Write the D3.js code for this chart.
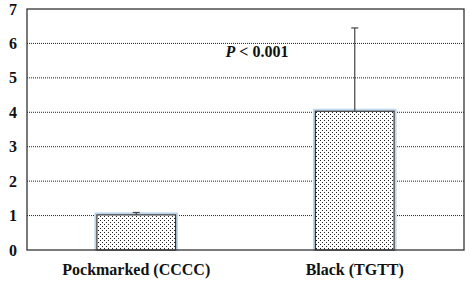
<!DOCTYPE html>
<html><head><meta charset="utf-8">
<script src="https://cdn.jsdelivr.net/npm/d3@7"></script>
<style>body{margin:0;background:#fff}svg{display:block}</style>
</head><body>
<script>
const categories = ["Pockmarked (CCCC)", "Black (TGTT)"];
const values = [1.02, 4.03];
const errors = [0.07, 2.42];
const yTicks = [0,1,2,3,4,5,6,7];

const W = 470, H = 282;
const m = {l:27, r:6, t:9, b:32};
const svg = d3.select("body").append("svg").attr("width", W).attr("height", H);
const defs = svg.append("defs");
const pat = defs.append("pattern").attr("id","dots").attr("patternUnits","userSpaceOnUse")
  .attr("width",4).attr("height",4);
pat.append("rect").attr("width",4).attr("height",4).attr("fill","#fff");
pat.append("rect").attr("x",0).attr("y",0).attr("width",1).attr("height",1).attr("fill","#222");
pat.append("rect").attr("x",2).attr("y",2).attr("width",1).attr("height",1).attr("fill","#222");

const x = d3.scaleBand().domain(categories).range([m.l, W - m.r]).paddingInner(0.64).paddingOuter(0.32);
const y = d3.scaleLinear().domain([0,7]).range([H - m.b, m.t]);

// gridlines
svg.append("g").selectAll("line").data(yTicks.filter(d => d > 0 && d < 7)).join("line")
  .attr("x1", m.l).attr("x2", W - m.r).attr("y1", d => y(d)).attr("y2", d => y(d))
  .attr("stroke","#222").attr("stroke-width",1).attr("stroke-dasharray","1,1");

// bars
const bars = svg.append("g");
bars.selectAll("rect.glow").data(values).join("rect")
  .attr("x", (d,i) => x(categories[i]) - 1.5).attr("y", d => y(d) - 1.5)
  .attr("width", x.bandwidth() + 3).attr("height", d => y(0) - y(d) + 1.5)
  .attr("fill","none").attr("stroke","#bcd6ee").attr("stroke-width",2);
bars.selectAll("rect.bar").data(values).join("rect")
  .attr("x", (d,i) => x(categories[i])).attr("y", d => y(d))
  .attr("width", x.bandwidth()).attr("height", d => y(0) - y(d))
  .attr("fill","url(#dots)").attr("stroke","#333").attr("stroke-width",1.2);

// error bars
const eb = svg.append("g").attr("stroke","#444").attr("stroke-width",1.2);
values.forEach((v,i) => {
  const cx = x(categories[i]) + x.bandwidth()/2;
  eb.append("line").attr("x1",cx).attr("x2",cx).attr("y1",y(v)).attr("y2",y(v+errors[i]));
  eb.append("line").attr("x1",cx-3.5).attr("x2",cx+3.5).attr("y1",y(v+errors[i])).attr("y2",y(v+errors[i]));
});

// frame
svg.append("rect").attr("x",m.l).attr("y",y(7)).attr("width",W-m.r-m.l).attr("height",y(0)-y(7))
  .attr("fill","none").attr("stroke","#333").attr("stroke-width",1.3);

// y tick labels
svg.append("g").selectAll("text").data(yTicks).join("text")
  .attr("x", 13).attr("y", d => y(d)).attr("dy","0.35em").attr("text-anchor","middle")
  .attr("font-family","Liberation Serif, Times New Roman, serif").attr("font-weight","bold")
  .attr("font-size",16).attr("fill","#111").text(d => d);

// x labels
svg.append("g").selectAll("text").data(categories).join("text")
  .attr("x", d => x(d) + x.bandwidth()/2).attr("y", 275).attr("text-anchor","middle")
  .attr("font-family","Liberation Serif, Times New Roman, serif").attr("font-weight","bold")
  .attr("font-size",16).attr("fill","#111").text(d => d);

// annotation
const t = svg.append("text").attr("x", 257).attr("y", 57).attr("text-anchor","middle")
  .attr("font-family","Liberation Serif, Times New Roman, serif").attr("font-weight","bold")
  .attr("font-size",16).attr("fill","#111");
t.append("tspan").attr("font-style","italic").text("P");
t.append("tspan").text(" < 0.001");
</script>
</body></html>
